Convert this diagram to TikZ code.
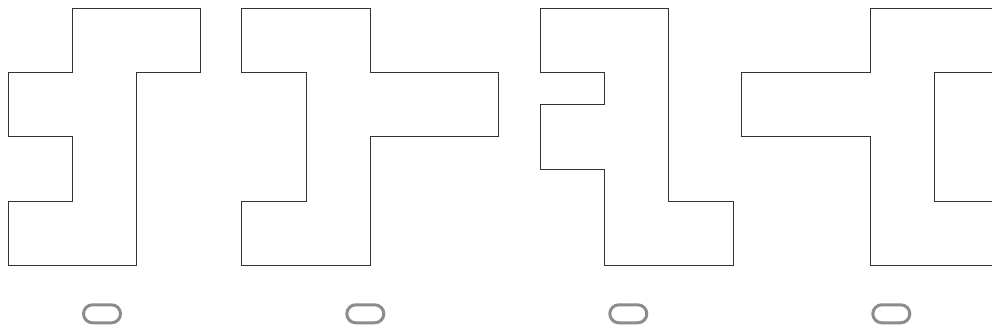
\documentclass[tikz,border=0pt]{standalone}
\begin{document}
\begin{tikzpicture}[x=1pt,y=-1pt,
  outline/.style={draw=black!80, line width=0.9pt, line join=miter},
  pill/.style={draw=black!45, line width=3pt, rounded corners=9pt}]
\useasboundingbox (0,0) rectangle (992,331);
\clip (0,0) rectangle (992,331);
% shape 1
\begin{scope}[shift={(8,8.3)}, x=64.3pt, y=-64.3pt]
\draw[outline] (1,0) -- (3,0) -- (3,1) -- (2,1) -- (2,4) -- (0,4) -- (0,3) -- (1,3) -- (1,2) -- (0,2) -- (0,1) -- (1,1) -- cycle;
\end{scope}
% shape 2
\begin{scope}[shift={(241.7,8.3)}, x=64.3pt, y=-64.3pt]
\draw[outline] (0,0) -- (2,0) -- (2,1) -- (4,1) -- (4,2) -- (2,2) -- (2,4) -- (0,4) -- (0,3) -- (1,3) -- (1,1) -- (0,1) -- cycle;
\end{scope}
% shape 3
\begin{scope}[shift={(540.3,8.3)}, x=64.3pt, y=-64.3pt]
\draw[outline] (0,0) -- (2,0) -- (2,3) -- (3,3) -- (3,4) -- (1,4) -- (1,2.5) -- (0,2.5) -- (0,1.5) -- (1,1.5) -- (1,1) -- (0,1) -- cycle;
\end{scope}
% shape 4
\begin{scope}[shift={(741.7,8.3)}, x=64.3pt, y=-64.3pt]
\draw[outline] (0,1) -- (2,1) -- (2,0) -- (4,0) -- (4,1) -- (3,1) -- (3,3) -- (4,3) -- (4,4) -- (2,4) -- (2,2) -- (0,2) -- cycle;
\end{scope}
% pills
\foreach \cx/\n in {102/a,365.3/b,628.3/c,891.3/d}{
  \draw[pill] (\cx-18.5,304.8) rectangle (\cx+18.5,322.8);
}
\end{tikzpicture}
\end{document}
